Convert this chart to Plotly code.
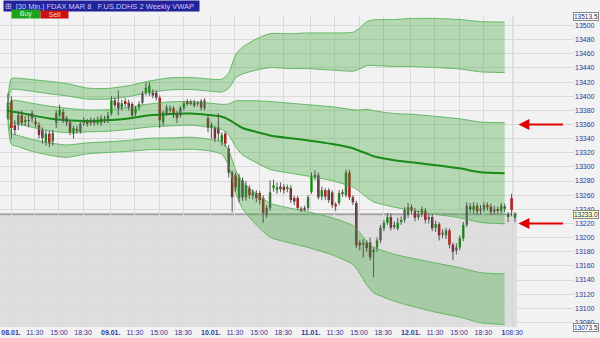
import plotly.graph_objects as go

# ---------------- data ----------------
open_ = [13369,13394,13359,13359,13373,13364,13366,13376,13364,13359,13352,13335,13347,13336,13362,13373,13378,13369,13363,13347,13353,13350,13362,13364,13362,13365,13362,13362,13368,
         13366,13376,13394,13391,13384,13393,13391,13389,13376,13384,13391,13405,13404,13405,13405,13398,13363,13376,13380,13383,13376,13373,13383,13393,13390,13391,13389,13393,13383,
         13369,13357,13355,13356,13335,13347,13326,13292,13288,13256,13281,13257,13270,13259,13263,13263,13256,13232,13242,13270,13267,13272,13272,13269,13270,13256,13256,13241,13240,
         13242,13265,13286,13288,13258,13267,13267,13264,13247,13249,13262,13260,13292,13257,13249,13193,13190,13192,13193,13180,13186,13196,13213,13221,13229,13216,13213,13222,13225,
         13232,13243,13238,13229,13233,13238,13226,13229,13214,13219,13204,13203,13210,13190,13182,13186,13199,13218,13244,13239,13245,13238,13240,13246,13244,13237,13240,13238,13244,
         13229,13256,13228]
close = [13391,13355,13352,13373,13362,13366,13365,13369,13362,13345,13341,13347,13333,13348,13376,13381,13366,13363,13349,13355,13351,13361,13366,13362,13366,13363,13366,13369,13366,
         13373,13394,13387,13383,13390,13389,13385,13373,13383,13389,13404,13412,13415,13401,13398,13366,13377,13384,13383,13373,13369,13383,13390,13389,13391,13387,13390,13384,13394,
         13355,13359,13340,13347,13345,13333,13292,13257,13271,13285,13257,13274,13260,13264,13256,13253,13235,13242,13264,13274,13271,13270,13267,13271,13253,13251,13242,13239,13242,
         13257,13286,13288,13257,13267,13258,13253,13246,13244,13263,13264,13292,13257,13250,13189,13189,13193,13185,13172,13182,13196,13214,13221,13229,13214,13218,13221,13225,13239,
         13243,13238,13228,13233,13240,13225,13229,13213,13219,13203,13207,13210,13190,13180,13186,13199,13218,13245,13240,13245,13237,13241,13246,13243,13236,13240,13238,13245,13241,
         13233,13239,13233]
high = [13404,13400,13366,13378,13380,13372,13376,13380,13370,13363,13356,13352,13351,13352,13380,13388,13382,13372,13366,13358,13358,13364,13370,13368,13370,13369,13371,13373,13372,
        13378,13400,13398,13408,13395,13397,13395,13392,13386,13393,13407,13419,13420,13410,13408,13401,13380,13388,13387,13386,13379,13386,13393,13396,13395,13395,13393,13396,13397,
        13373,13363,13358,13376,13349,13350,13331,13295,13292,13290,13285,13280,13274,13268,13267,13266,13260,13246,13281,13282,13278,13278,13276,13275,13274,13259,13259,13244,13245,
        13260,13292,13295,13292,13272,13270,13270,13267,13250,13267,13268,13296,13296,13260,13252,13196,13198,13196,13200,13186,13200,13218,13225,13235,13234,13223,13228,13230,13243,
        13249,13247,13242,13238,13244,13242,13234,13233,13224,13222,13212,13214,13213,13193,13192,13203,13222,13250,13249,13250,13249,13246,13250,13250,13248,13245,13244,13249,13248,
        13236,13262,13236]
low = [13366,13340,13345,13352,13358,13358,13356,13363,13356,13340,13333,13330,13328,13330,13355,13370,13362,13358,13345,13340,13347,13347,13358,13357,13358,13358,13359,13358,13362,
       13362,13373,13383,13373,13380,13384,13380,13370,13372,13380,13388,13401,13400,13397,13394,13355,13358,13372,13377,13369,13362,13370,13380,13386,13387,13384,13386,13380,13380,
       13349,13340,13335,13337,13330,13328,13285,13236,13265,13250,13252,13252,13255,13254,13250,13247,13221,13228,13238,13265,13262,13264,13262,13264,13249,13246,13239,13236,13237,
       13238,13262,13281,13254,13253,13253,13249,13242,13238,13246,13258,13257,13253,13246,13185,13182,13172,13180,13168,13144,13180,13192,13209,13218,13210,13212,13210,13218,13221,
       13228,13233,13223,13225,13229,13220,13220,13209,13208,13196,13199,13198,13185,13168,13176,13182,13195,13215,13235,13234,13232,13233,13236,13238,13232,13233,13234,13234,13236,
       13222,13230,13222]

band_idx = [0,1,3,7,12,17,23,29,35,41,47,53,58,62,64,66,68,72,76,82,87,94,100,102,104,106,112,117,124,131,137,144]
vwap = [13380,13378.5,13377,13373,13368.5,13366,13365,13366,13368.5,13373,13375,13375.5,13373.5,13371,13367,13361,13355,13349.5,13344.5,13340.5,
        13337.5,13332.5,13326.5,13322.5,13319,13315,13309.5,13306.5,13302.5,13298,13292.5,13291]
up3 = [13397,13425,13425.5,13423.5,13421,13418,13411.5,13411,13415,13421.5,13426,13426.5,13424.5,13424,13433,13458.5,13469.5,13481,13488.5,13488.5,
       13489.5,13489.5,13490.5,13496.5,13505.5,13508,13508.5,13510,13510,13508.5,13505.5,13505]
up2 = [13391,13409.5,13409.5,13407,13403.5,13400.5,13396,13396,13399.5,13405.5,13409,13409.5,13407.5,13406,13411,13426,13431.5,13437,13440.5,13439,
       13439,13437,13435.5,13438.5,13443.5,13443.5,13442,13442,13440.5,13438.5,13434.5,13433.5]
up1 = [13385.5,13394,13393.5,13390,13386,13383,13380.5,13381,13384,13389,13392,13392.5,13390.5,13388.5,13389,13393.5,13393.5,13393.5,13392.5,13390,
       13388,13385,13381,13380.5,13381.5,13379.5,13375.5,13374.5,13371.5,13368,13363.5,13362.5]
dn1 = [13374.5,13363,13361,13356,13351,13348.5,13349.5,13350.5,13353,13356.5,13358,13359,13356.5,13353,13345.5,13328.5,13317,13306,13296.5,13291,
       13287,13280.5,13271.5,13265,13257,13250.5,13243,13238.5,13233,13228,13221.5,13219.5]
dn2 = [13368.5,13347.5,13344.5,13339,13334,13331,13334,13335.5,13337.5,13340.5,13341,13342,13339.5,13335.5,13323.5,13296,13279,13262,13248.5,13241.5,
       13236.5,13228,13217,13207,13195,13186.5,13176.5,13171,13164,13157.5,13150.5,13148.5]
dn3 = [13363,13332,13328.5,13322,13316.5,13313.5,13318.5,13320.5,13322,13324.5,13324,13325,13323,13318,13301.5,13263.5,13241,13218,13200.5,13192,
       13186,13175.5,13162,13149,13133,13122,13110,13103,13094.5,13087.5,13079.5,13077]

tick_pos = [0.9,7.8,14.8,21.8,29.8,36.8,43.8,50.8,58.8,65.8,72.8,79.8,87.8,94.8,101.8,108.8,116.8,123.8,130.8,137.8,146.2]
tick_txt = ["<b>08.01.</b>","11:30","15:00","18:30","<b>09.01.</b>","11:30","15:00","18:30",
            "<b>10.01.</b>","11:30","15:00","18:30","<b>11.01.</b>","11:30","15:00","18:30",
            "<b>12.01.</b>","11:30","15:00","18:30","<b>1</b>08:30"]
price_ticks = list(range(13080, 13501, 20))
last_price = 13233.0
range_top = 13513.5
range_bot = 13073.5
arrow_levels = [13360, 13220]

# ---------------- styling ----------------
BG = "#f2f2f2"
FILL = "rgba(70,168,60,0.36)"
EDGE = "#62b862"
VWAP_C = "#178a17"
UP_C = "#1f9a1f"
DN_C = "#a80f0f"
WICK_C = "#555555"
AXIS_TXT = "#33339a"
FONT = "Liberation Sans"

W, H = 600, 338
ML, MR, MT, MB = 0, 26, 16, 11
PW = W - ML - MR
PH = H - MT - MB
XMIN, XMAX = -2.3, 164.1

def px_x(p):
    return (p - ML) / PW

def px_y(p):
    return (H - MB - p) / PH

fig = go.Figure()

def band(lo, hi):
    fig.add_trace(go.Scatter(x=band_idx, y=lo, mode="lines",
                             line=dict(color=EDGE, width=1, shape="spline", smoothing=0.6),
                             hoverinfo="skip", showlegend=False))
    fig.add_trace(go.Scatter(x=band_idx, y=hi, mode="lines", fill="tonexty", fillcolor=FILL,
                             line=dict(color=EDGE, width=1, shape="spline", smoothing=0.6),
                             hoverinfo="skip", showlegend=False))

band(up2, up3)
band(dn1, up1)
band(dn3, dn2)

fig.add_trace(go.Scatter(x=band_idx, y=vwap, mode="lines",
                         line=dict(color=VWAP_C, width=2, shape="spline", smoothing=0.6),
                         hoverinfo="skip", showlegend=False))

idx = list(range(len(close)))
wx, wy = [], []
for i in idx:
    wx += [i, i, None]
    wy += [low[i], high[i], None]
fig.add_trace(go.Scatter(x=wx, y=wy, mode="lines", line=dict(color=WICK_C, width=1),
                         hoverinfo="skip", showlegend=False))

bases = [min(o, c) for o, c in zip(open_, close)]
heights = [max(abs(c - o), 0.9) for o, c in zip(open_, close)]
colors = [UP_C if c >= o else DN_C for o, c in zip(open_, close)]
fig.add_trace(go.Bar(x=idx, y=heights, base=bases, width=0.72,
                     marker=dict(color=colors, line=dict(width=0)),
                     hoverinfo="skip", showlegend=False))

shapes = [
    dict(type="rect", xref="x", yref="y", x0=XMIN, x1=147.6, y0=range_bot, y1=last_price,
         fillcolor="#dedede", line=dict(width=0), layer="below"),
    dict(type="line", xref="x", yref="y", x0=XMIN, x1=147.6, y0=last_price, y1=last_price,
         line=dict(color="#a3a3a3", width=2), layer="below"),
    dict(type="line", xref="x", yref="y", x0=146.4, x1=146.4, y0=range_bot, y1=range_top,
         line=dict(color="#d0d0d0", width=1), layer="below"),
]

ann = []
# header
ann.append(dict(xref="paper", yref="paper", x=px_x(3), y=px_y(0.5), xanchor="left", yanchor="top",
                text="\u229e  [30 Min.] FDAX MAR 8   F.US.DDHS 2 Weekly VWAP  ", showarrow=False,
                font=dict(family=FONT, size=7.5, color="#c8c8ff"), bgcolor="#22229a",
                borderpad=0.5))
ann.append(dict(xref="paper", yref="paper", x=px_x(25.5), y=px_y(14.5), xanchor="center", yanchor="middle",
                text="    Buy    ", showarrow=False, font=dict(family=FONT, size=7, color="#c8ffc8"),
                bgcolor="#1ea21e", borderpad=0))
ann.append(dict(xref="paper", yref="paper", x=px_x(54.5), y=px_y(14.5), xanchor="center", yanchor="middle",
                text="    Sell    ", showarrow=False, font=dict(family=FONT, size=7, color="#ffd0d0"),
                bgcolor="#cc1010", borderpad=0))
# boxed price labels
for val, bg in [(range_top, "#ffffff"), (last_price, "#ffffc8"), (range_bot, "#ffffff")]:
    ann.append(dict(xref="paper", yref="y", x=px_x(586), y=val, xanchor="center", yanchor="middle",
                    text=f"{val:.1f}", showarrow=False,
                    font=dict(family=FONT, size=6.5, color="#202060"),
                    bgcolor=bg, bordercolor="#888888", borderwidth=1, borderpad=0))
# red arrows
for lv in arrow_levels:
    ann.append(dict(xref="x", yref="y", x=148.0, y=lv, ax=46, ay=0, text="", showarrow=True,
                    arrowhead=2, arrowsize=1.1, arrowwidth=2, arrowcolor="#e00000"))

fig.update_layout(
    width=W, height=H, autosize=False,
    margin=dict(l=ML, r=MR, t=MT, b=MB, pad=0),
    paper_bgcolor=BG, plot_bgcolor=BG,
    barmode="overlay", showlegend=False,
    shapes=shapes, annotations=ann,
    font=dict(family=FONT, size=7, color=AXIS_TXT),
)
fig.update_xaxes(range=[XMIN, XMAX], tickvals=tick_pos, ticktext=tick_txt,
                 showgrid=True, gridcolor="#dadada", gridwidth=1, zeroline=False,
                 ticks="", tickfont=dict(family=FONT, size=7, color=AXIS_TXT),
                 ticklabeloverflow="allow",
                 automargin=False, showline=False, fixedrange=True)
fig.update_yaxes(range=[range_bot, range_top], side="right", tickvals=price_ticks,
                 ticktext=[str(v) for v in price_ticks],
                 showgrid=True, gridcolor="#dadada", gridwidth=1, zeroline=False,
                 ticks="", tickfont=dict(family=FONT, size=7, color=AXIS_TXT),
                 automargin=False, showline=False, fixedrange=True)

fig.write_html("out.html", config={"displayModeBar": False})
